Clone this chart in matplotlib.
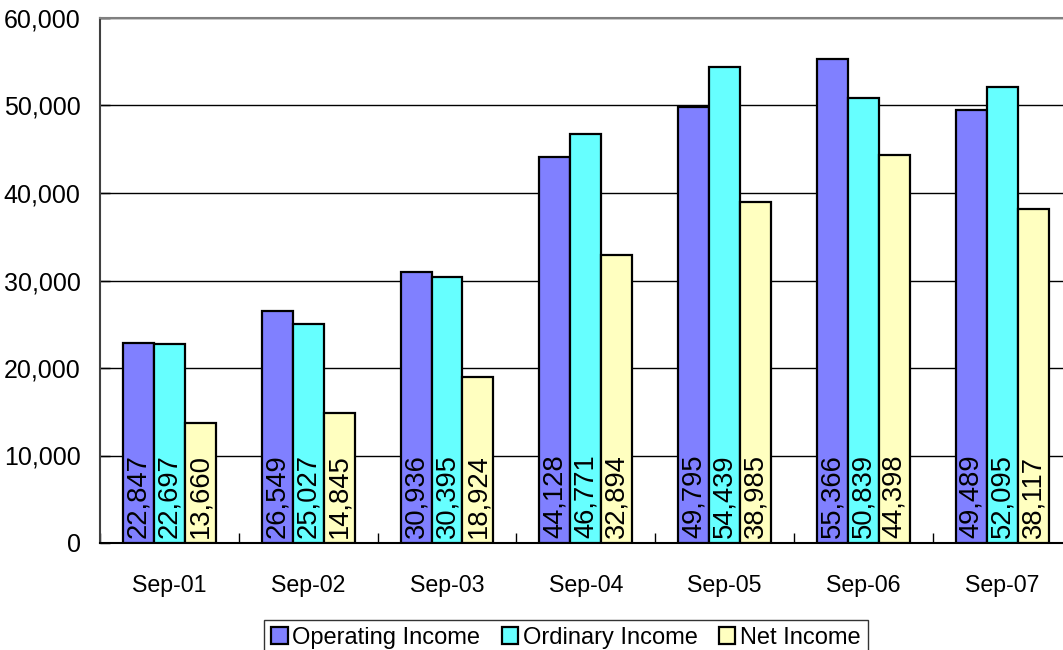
import numpy as np
import matplotlib.pyplot as plt
from matplotlib.ticker import FuncFormatter, FixedLocator

plt.rcParams['font.family'] = ['Liberation Sans', 'DejaVu Sans']

periods = ['Sep-01', 'Sep-02', 'Sep-03', 'Sep-04', 'Sep-05', 'Sep-06', 'Sep-07']
operating = [22847, 26549, 30936, 44128, 49795, 55366, 49489]
ordinary = [22697, 25027, 30395, 46771, 54439, 50839, 52095]
net = [13660, 14845, 18924, 32894, 38985, 44398, 38117]

series = [('Operating Income', operating, '#8080FF'),
          ('Ordinary Income', ordinary, '#66FFFF'),
          ('Net Income', net, '#FFFFC0')]

fig = plt.figure(figsize=(10.63, 6.5), dpi=100)
ax = fig.add_axes([100 / 1063, 107 / 650, 7 * 138.8 / 1063, 525 / 650])

x = np.arange(len(periods))
w = 0.223
for i, (name, vals, col) in enumerate(series):
    pos = x + (i - 1) * w
    ax.bar(pos, vals, width=w, color=col, edgecolor='black', linewidth=1.6,
           label=name, zorder=3)
    for px, v in zip(pos, vals):
        ax.text(px, 600, f'{v:,}', rotation=90, ha='center', va='bottom',
                fontsize=19.7, zorder=4)

ax.set_xlim(-0.5, len(periods) - 0.5)
ax.set_ylim(0, 60000)
ax.set_yticks(np.arange(0, 60001, 10000))
ax.yaxis.set_major_formatter(FuncFormatter(lambda v, p: f'{int(v):,}'))
ax.yaxis.grid(True, color='black', linewidth=1.0, zorder=0)

ax.set_xticks(x)
ax.set_xticklabels(periods)
ax.xaxis.set_minor_locator(FixedLocator(np.arange(-0.5, len(periods), 1.0)))
ax.tick_params(axis='x', which='major', length=0, labelsize=16.7, pad=22)
ax.tick_params(axis='x', which='minor', direction='in', length=7, width=1)
ax.tick_params(axis='y', direction='in', length=7, width=1, labelsize=18, pad=14)

ax.spines['right'].set_visible(False)
ax.spines['top'].set_color('#808080')
ax.spines['left'].set_color('#404040')
ax.spines['left'].set_linewidth(1.5)
ax.spines['bottom'].set_linewidth(1.5)
ax.spines['top'].set_linewidth(1.5)

leg = fig.legend(loc='lower left', bbox_to_anchor=(264 / 1063, -6 / 650), ncol=3,
                 fontsize=17, frameon=True, fancybox=False, edgecolor='black',
                 handlelength=0.7, handleheight=0.7, handletextpad=0.2,
                 columnspacing=0.9, borderpad=0.3, borderaxespad=0)
leg.get_frame().set_linewidth(1.0)

fig.savefig('out.png', dpi=100)
